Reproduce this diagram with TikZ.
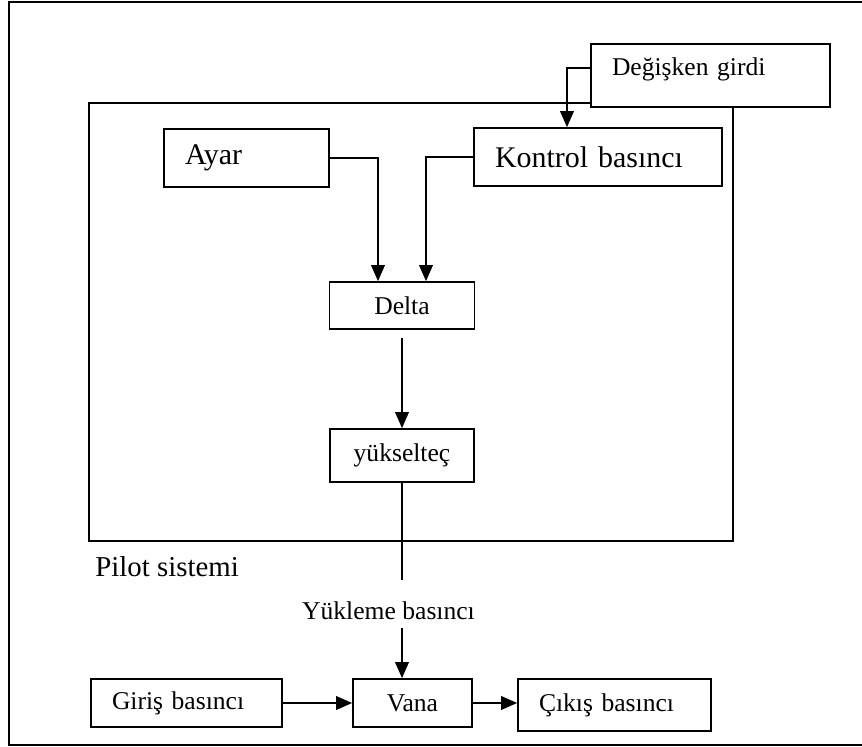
\documentclass[tikz,border=0pt]{standalone}
\usepackage{fontspec}
\setmainfont{Liberation Serif}
\usetikzlibrary{positioning, arrows.meta, calc}

\tikzset{
  bigblock/.style={rectangle, draw, fill=white, line width=1.2pt, font=\fontsize{21.3}{24}\selectfont, inner ysep=0pt},
  smallblock/.style={rectangle, draw, fill=white, line width=1.2pt, font=\fontsize{18.2}{21}\selectfont, inner ysep=0pt},
  padded/.style={align=left, inner xsep=0.525cm, text width=#1},
  arr/.style={-{Triangle[width=0.34cm,length=0.4cm]}, line width=1.2pt},
  plain/.style={line width=1.2pt},
}

\begin{document}
\begin{tikzpicture}
\useasboundingbox (0,0) rectangle (21.55,18.675);

% Outer frame
\draw[plain] (22,18.625) -- (0.225,18.625) -- (0.225,0.05) -- (22,0.05);

% Pilot system
\node[rectangle, draw, plain, minimum width=16.1cm, minimum height=10.95cm] (pilot) at (10.275,10.625) {};
\node[font=\fontsize{20.5}{24}\selectfont, inner sep=0pt, below right=0.35cm and 0.175cm of pilot.south west] (pilotlabel) {Pilot sistemi};

% Blocks
\node[smallblock, padded=4.925cm, minimum height=1.575cm, text depth=0.42cm] (degisken) at (17.7625,16.7875) {Değişken girdi};
\node[bigblock, padded=3.075cm, minimum height=1.45cm] (ayar) at (6.1625,14.725) {Ayar};
\node[bigblock, padded=5.15cm, minimum height=1.45cm] (kontrol) at (14.95,14.75) {Kontrol basıncı};
\node[smallblock, minimum width=3.625cm, minimum height=1.175cm] (delta) at (10.05,11.0375) {Delta};
\node[smallblock, minimum width=3.6cm, minimum height=1.325cm] (yukselt) at (10.05,7.2875) {yükselteç};

% Valve row
\node[smallblock, padded=3.725cm, minimum height=1.2cm] (giris) at (4.6625,1.1) {Giriş basıncı};
\node[smallblock, minimum width=2.975cm, minimum height=1.2cm] (vana) at (10.3125,1.1) {Vana};
\node[smallblock, padded=3.775cm, minimum height=1.3cm] (cikis) at (15.3625,1.05) {Çıkış basıncı};

% Load pressure
\coordinate (loadtop) at ($(yukselt.south)+(0,-2.425)$);
\coordinate (loadbot) at ($(loadtop)+(0,-1.2)$);
\node[font=\fontsize{18.2}{21}\selectfont, anchor=base] (yukleme) at (9.7125,3.175) {Yükleme basıncı};

% Connections
\draw[arr] ($(degisken.west)+(0,0.19)$) -| ($(kontrol.north)+(-0.775,0)$);
\draw[arr] (ayar.east) -| ($(delta.north)+(-0.6,0)$);
\draw[arr] (kontrol.west) -| ($(delta.north)+(0.6,0)$);
\draw[arr, shorten <=0.2cm] (delta.south) -- (yukselt.north);
\draw[plain] (yukselt.south) -- (loadtop);
\draw[arr] (loadbot) -- (loadbot |- vana.north);
\draw[arr] (giris.east) -- (vana.west);
\draw[arr] (vana.east) -- (vana.east -| cikis.west);

\end{tikzpicture}
\end{document}
